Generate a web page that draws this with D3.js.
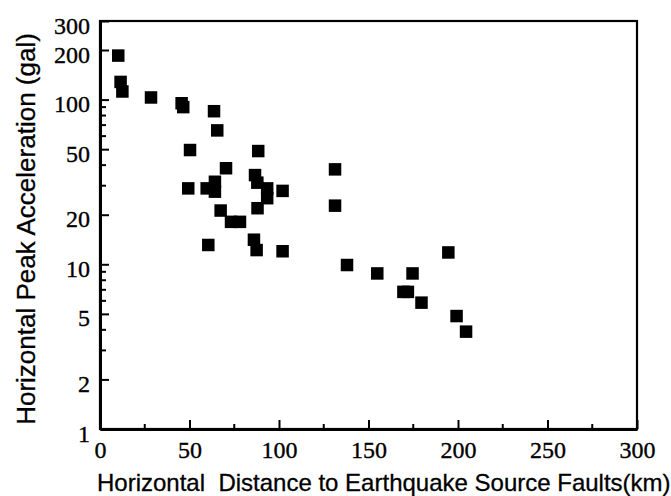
<!DOCTYPE html>
<html>
<head>
<meta charset="utf-8">
<script src="https://cdn.jsdelivr.net/npm/d3@7"></script>
<style>
  body { margin: 0; background: #fff; }
  svg { display: block; }
</style>
</head>
<body>
<div id="chart"></div>
<script>
var svgWidth = 671;
var svgHeight = 496;

var margin = { top: 21, right: 34, bottom: 67, left: 100 };
var width = svgWidth - margin.left - margin.right;
var height = svgHeight - margin.top - margin.bottom;

// distance to source faults (km) and horizontal peak acceleration (gal)
var distance = [10.2, 11.5, 12.5, 28.5, 45.6, 46.5, 63.7, 65.5, 50.3, 88.4,
  70.4, 49.3, 59.6, 64.2, 64.2, 86.6, 87.9, 93.4, 93.4, 102,
  67.4, 88, 73.2, 78.2, 60.5, 86, 87.5, 102, 131.3, 131.3,
  194.6, 138, 154.9, 174.6, 169.5, 172, 179.6, 199.2, 204.5];
var acceleration = [185, 128, 112, 103, 95, 90, 85, 65, 49.4, 48.7,
  38.3, 28.9, 28.9, 31.7, 27.6, 34.8, 31.3, 28.9, 25.2, 27.9,
  21.2, 21.9, 18.1, 18.1, 13.1, 14.1, 12.2, 12, 37.7, 22.7,
  11.8, 9.9, 8.8, 8.8, 6.8, 6.8, 5.85, 4.85, 3.9];

var xTicks = [0, 50, 100, 150, 200, 250, 300];
var xMinor = [25, 75, 125, 175, 225, 275];
var yTicks = [1, 2, 5, 10, 20, 50, 100, 200, 300];
var yMinor = [3, 4, 6, 7, 8, 9, 30, 40, 60, 70, 80, 90];

var data = distance.map((d, i) => ({ x: d, y: acceleration[i] }));

var serif = "'Liberation Serif', 'Times New Roman', Times, serif";
var sans = "'Liberation Sans', Arial, Helvetica, sans-serif";

var svg = d3.select("#chart")
  .append("svg")
  .attr("width", svgWidth)
  .attr("height", svgHeight);

var chartGroup = svg.append("g")
  .attr("transform", `translate(${margin.left}, ${margin.top})`);

var xScale = d3.scaleLinear().domain([0, 300]).range([0, width]);
var yScale = d3.scaleLog().domain([1, 300]).range([height, 0]);

// frame
chartGroup.append("rect")
  .attr("width", width)
  .attr("height", height)
  .attr("fill", "none")
  .attr("stroke", "#000")
  .attr("stroke-width", 2.2);

// bottom axis, ticks pointing inward
var bottomAxis = d3.axisBottom(xScale).tickValues(xTicks).tickSize(0).tickPadding(0).tickFormat(d3.format("d"));
var xAxis = chartGroup.append("g")
  .attr("transform", `translate(0, ${height})`)
  .call(bottomAxis);
xAxis.select(".domain").attr("stroke-width", 3);
xAxis.selectAll(".tick line").attr("y2", -9).attr("stroke-width", 2);
xAxis.selectAll(".tick text")
  .attr("y", 29)
  .attr("dy", 0)
  .style("font-family", serif)
  .style("font-size", "24px")
  .style("fill", "#000")
  .style("stroke", "#000")
  .style("stroke-width", "0.35px");
xAxis.selectAll(".minor")
  .data(xMinor)
  .enter()
  .append("line")
  .attr("x1", d => xScale(d))
  .attr("x2", d => xScale(d))
  .attr("y1", 0)
  .attr("y2", -5)
  .attr("stroke", "#000")
  .attr("stroke-width", 2);

// left axis, ticks pointing inward
var leftAxis = d3.axisLeft(yScale).tickValues(yTicks).tickSize(0).tickPadding(0).tickFormat(d3.format("d"));
var yAxis = chartGroup.append("g").call(leftAxis);
yAxis.select(".domain").attr("stroke-width", 3);
yAxis.selectAll(".tick line").attr("x2", 9).attr("stroke-width", 2);
yAxis.selectAll(".tick text")
  .attr("x", -10)
  .attr("dy", 12)
  .style("font-family", serif)
  .style("font-size", "24px")
  .style("fill", "#000")
  .style("stroke", "#000")
  .style("stroke-width", "0.35px");
yAxis.selectAll(".minor")
  .data(yMinor)
  .enter()
  .append("line")
  .attr("x1", 0)
  .attr("x2", 6)
  .attr("y1", d => yScale(d))
  .attr("y2", d => yScale(d))
  .attr("stroke", "#000")
  .attr("stroke-width", 2);

// points
var size = 12.5;
chartGroup.selectAll(".pt")
  .data(data)
  .enter()
  .append("rect")
  .attr("class", "pt")
  .attr("x", d => xScale(d.x) - size / 2)
  .attr("y", d => yScale(d.y) - size / 2)
  .attr("width", size)
  .attr("height", size)
  .attr("fill", "#000");

// axis titles
svg.append("text")
  .attr("x", 97)
  .attr("y", 491)
  .style("font-family", sans)
  .style("font-size", "24px")
  .style("white-space", "pre")
  .style("stroke", "#000")
  .style("stroke-width", "0.3px")
  .attr("fill", "#000")
  .text("Horizontal  Distance to Earthquake Source Faults(km)");

svg.append("text")
  .attr("transform", "translate(35, 229) rotate(-90)")
  .attr("text-anchor", "middle")
  .style("font-family", sans)
  .style("font-size", "26px")
  .style("stroke", "#000")
  .style("stroke-width", "0.3px")
  .attr("fill", "#000")
  .text("Horizontal Peak Acceleration (gal)");
</script>
</body>
</html>
